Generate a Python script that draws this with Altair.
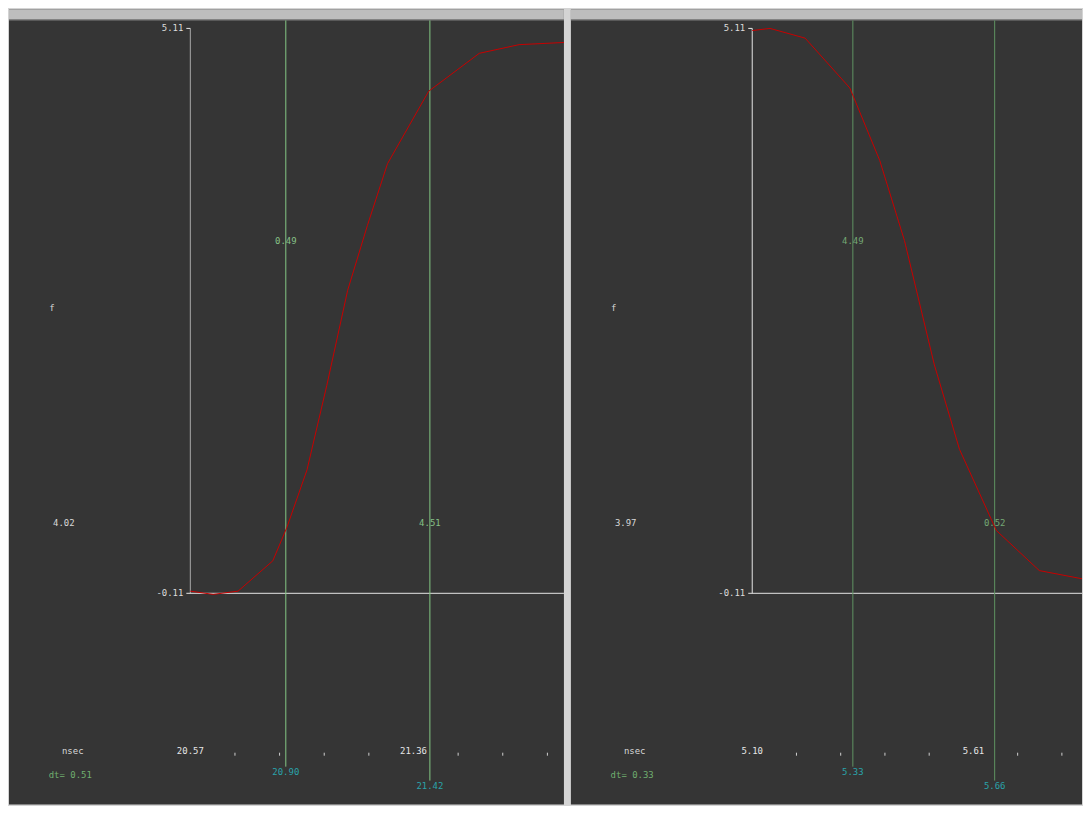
import altair as alt
import pandas as pd

# ---------------- data ----------------
left_t = [20.570, 20.651, 20.739, 20.862, 20.912, 20.983, 21.053, 21.127, 21.197, 21.268, 21.414, 21.593, 21.734, 21.893]
left_v = [-0.09, -0.12, -0.09, 0.19, 0.50, 1.03, 1.81, 2.69, 3.29, 3.86, 4.53, 4.88, 4.96, 4.98]
left_cursors = [20.908, 21.418]
left_cursor_labels = ["20.90", "21.42"]
left_cursor_values = ["0.49", "4.51"]
left_major_t = [20.57, 21.36]
left_major_labels = ["20.57", "21.36"]
left_minor_t = [20.728, 20.886, 21.044, 21.202, 21.518, 21.676, 21.834]
left_diff = "4.02"
left_dt = "dt= 0.51"

right_t = [5.100, 5.141, 5.222, 5.325, 5.394, 5.451, 5.520, 5.578, 5.663, 5.762, 5.879]
right_v = [5.09, 5.11, 5.02, 4.56, 3.89, 3.15, 2.00, 1.22, 0.47, 0.10, 0.01]
right_cursors = [5.332, 5.659]
right_cursor_labels = ["5.33", "5.66"]
right_cursor_values = ["4.49", "0.52"]
right_major_t = [5.10, 5.61]
right_major_labels = ["5.10", "5.61"]
right_minor_t = [5.202, 5.304, 5.406, 5.508, 5.712, 5.814]
right_diff = "3.97"
right_dt = "dt= 0.33"

y_top_value = 5.11
y_bot_value = -0.11
y_labels = ["5.11", "-0.11"]
y_name = "f"
x_name = "nsec"

# ---------------- layout / style ----------------
H = 798
AXIS_PX = 182
Y_TOP_PX = 19
Y_BOT_PX = 586
PX_PER_V = (Y_BOT_PX - Y_TOP_PX) / (y_top_value - y_bot_value)
BG = "#353535"
FONT = "DejaVu Sans Mono"
FS = 9


def panel(t, v, cursors, cursor_labels, cursor_values, major_t, major_labels,
          minor_t, diff, dt, px_per_ns, width, yaxis_color, cursor_color, cval_color):
    t_axis = major_t[0]
    t0 = t_axis - AXIS_PX / px_per_ns
    t1 = t_axis + (width - AXIS_PX) / px_per_ns
    v_max = y_top_value + Y_TOP_PX / PX_PER_V
    v_min = y_bot_value - (H - Y_BOT_PX) / PX_PER_V
    xs = alt.Scale(domain=[t0, t1], nice=False, zero=False)
    ys = alt.Scale(domain=[v_min, v_max], nice=False, zero=False)
    one = pd.DataFrame({"a": [0]})

    def X(f):
        return alt.X(f, type="quantitative", scale=xs, axis=None)

    def Y(f):
        return alt.Y(f, type="quantitative", scale=ys, axis=None)

    layers = []
    # menu bar
    layers.append(alt.Chart(one).mark_rect(color="#bdbdbd").encode(
        x=alt.value(0), x2=alt.value(width), y=alt.value(0), y2=alt.value(10)))
    layers.append(alt.Chart(one).mark_rule(color="#8a8a8a", strokeWidth=1).encode(
        x=alt.value(0), x2=alt.value(width), y=alt.value(10.5)))

    # axes
    ax = pd.DataFrame({"t": [t_axis], "tl": [t_axis - 4 / px_per_ns], "t1": [t1],
                       "vb": [y_bot_value], "vt": [y_top_value]})
    layers.append(alt.Chart(ax).mark_rule(color=yaxis_color, strokeWidth=1).encode(
        x=X("t"), y=Y("vb"), y2="vt"))
    layers.append(alt.Chart(ax).mark_rule(color="#e6e6e6", strokeWidth=1).encode(
        x=X("tl"), x2="t1", y=Y("vb")))
    layers.append(alt.Chart(ax).mark_rule(color="#e6e6e6", strokeWidth=1).encode(
        x=X("tl"), x2="t", y=Y("vt")))

    # cursor lines
    ends = [760, 774]
    for c, e in zip(cursors, ends):
        cd = pd.DataFrame({"t": [c]})
        layers.append(alt.Chart(cd).mark_rule(color=cursor_color, strokeWidth=1).encode(
            x=X("t"), y=alt.value(11), y2=alt.value(e)))

    # curve
    cur = pd.DataFrame({"t": t, "v": v})
    layers.append(alt.Chart(cur).mark_line(color="#c80000", strokeWidth=1, clip=True).encode(
        x=X("t"), y=Y("v")))

    # y labels
    yl = pd.DataFrame({"v": [y_top_value, y_bot_value], "lbl": y_labels})
    layers.append(alt.Chart(yl).mark_text(font=FONT, fontSize=FS, color="#dcdcdc",
                                          align="right", baseline="middle").encode(
        x=alt.value(AXIS_PX - 7), y=Y("v"), text="lbl:N"))

    # cursor value labels
    for c, lbl, yp in zip(cursors, cursor_values, [232, 515]):
        cd = pd.DataFrame({"t": [c], "lbl": [lbl]})
        layers.append(alt.Chart(cd).mark_text(font=FONT, fontSize=FS, color=cval_color,
                                              align="center", baseline="middle").encode(
            x=X("t"), y=alt.value(yp), text="lbl:N"))

    # cursor time labels
    for c, lbl, yp in zip(cursors, cursor_labels, [765, 779]):
        cd = pd.DataFrame({"t": [c], "lbl": [lbl]})
        layers.append(alt.Chart(cd).mark_text(font=FONT, fontSize=FS, color="#2aa3aa",
                                              align="center", baseline="middle").encode(
            x=X("t"), y=alt.value(yp), text="lbl:N"))

    # major tick labels
    md = pd.DataFrame({"t": major_t, "lbl": major_labels})
    layers.append(alt.Chart(md).mark_text(font=FONT, fontSize=FS, color="#e6e6e6",
                                          align="center", baseline="middle").encode(
        x=X("t"), y=alt.value(744), text="lbl:N"))
    # minor ticks
    mn = pd.DataFrame({"t": minor_t})
    layers.append(alt.Chart(mn).mark_rule(color="#d0d0d0", strokeWidth=1).encode(
        x=X("t"), y=alt.value(746), y2=alt.value(749)))

    # side texts
    pos = {y_name: (43, 300), diff: (55, 515), x_name: (64, 744)}
    for lbl in [y_name, diff, x_name]:
        layers.append(alt.Chart(pd.DataFrame({"lbl": [lbl]})).mark_text(
            font=FONT, fontSize=FS, color="#d8d8d8", align="center", baseline="middle").encode(
            x=alt.value(pos[lbl][0]), y=alt.value(pos[lbl][1]), text="lbl:N"))
    layers.append(alt.Chart(pd.DataFrame({"lbl": [dt]})).mark_text(
        font=FONT, fontSize=FS, color="#6fae6f", align="center", baseline="middle").encode(
        x=alt.value(61.5), y=alt.value(768), text="lbl:N"))

    return alt.layer(*layers).properties(width=width, height=H)


left = panel(left_t, left_v, left_cursors, left_cursor_labels, left_cursor_values,
             left_major_t, left_major_labels, left_minor_t, left_diff, left_dt,
             224 / 0.79, 557, "#a8a8a8", "#84c884", "#86c086")
right = panel(right_t, right_v, right_cursors, right_cursor_labels, right_cursor_values,
              right_major_t, right_major_labels, right_minor_t, right_diff, right_dt,
              222 / 0.51, 513, "#e6e6e6", "#5f9462", "#74a874")

chart = alt.hconcat(left, right, spacing=5).properties(
    padding=0, background="#d4d4d4"
).configure_view(stroke=None, fill=BG)

chart.save("out.html", embed_options={"renderer": "svg", "actions": False})
